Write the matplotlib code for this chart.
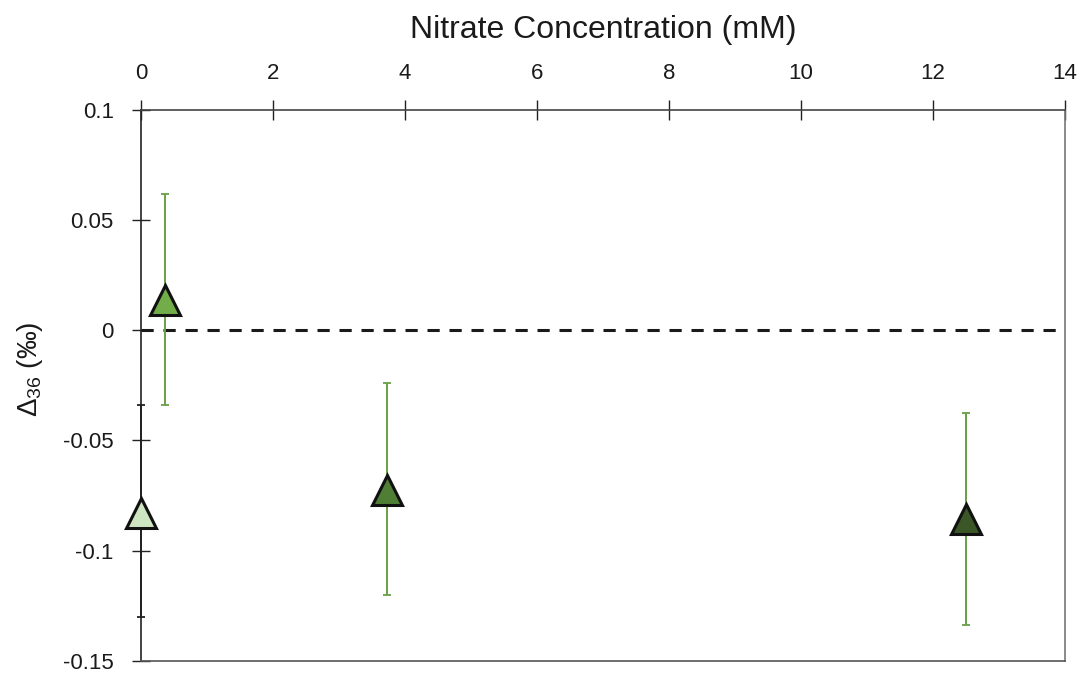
import numpy as np
import matplotlib.pyplot as plt

plt.rcParams["font.family"] = ["Liberation Sans", "DejaVu Sans"]
plt.rcParams["mathtext.fontset"] = "custom"
plt.rcParams["mathtext.rm"] = "Liberation Sans"
plt.rcParams["mathtext.it"] = "Liberation Sans"

# Nitrate treatments: concentration (mM), Δ36 (‰) and error bar limits
nitrate = [0.0, 0.36, 3.73, 12.5]
d36 = [-0.083, 0.0137, -0.0723, -0.0857]
err_hi = [-0.034, 0.062, -0.0238, -0.0377]
err_lo = [-0.130, -0.034, -0.1203, -0.1337]
fills = ["#cde5c0", "#72ad4a", "#4f7e34", "#3b5627"]
bar_colors = ["#222222", "#6a9e48", "#6a9e48", "#6a9e48"]

xticks = [0, 2, 4, 6, 8, 10, 12, 14]
yticks = [-0.15, -0.1, -0.05, 0, 0.05, 0.1]
ytick_labels = ["-0.15", "-0.1", "-0.05", "0", "0.05", "0.1"]

fig = plt.figure(figsize=(10.84, 6.77), dpi=100)
ax = fig.add_axes([0.130, 0.024, 0.8525, 0.8135])

# reference line at zero
ax.plot([0, 14], [0, 0], color="#1a1a1a", lw=2.2, ls=(0, (4, 3.2)), zorder=2)

for x, y, hi, lo, fc, bc in zip(nitrate, d36, err_hi, err_lo, fills, bar_colors):
    yerr = [[y - lo], [hi - y]]
    ax.errorbar([x], [y], yerr=yerr, fmt="none", ecolor=bc, elinewidth=1.4,
                capsize=3, capthick=1.3, zorder=3, clip_on=False)
    ax.plot([x], [y], marker="^", ms=21, mfc=fc, mec="#111111", mew=2.2,
            ls="none", zorder=4, clip_on=False)

ax.set_xlim(0, 14)
ax.set_ylim(-0.15, 0.1)
ax.set_xticks(xticks)
ax.set_xticklabels([str(t) for t in xticks])
ax.set_yticks(yticks)
ax.set_yticklabels(ytick_labels)

ax.xaxis.tick_top()
ax.xaxis.set_label_position("top")
ax.tick_params(axis="x", direction="inout", length=14, width=1, labelsize=16,
               pad=12, colors="#222222", labelcolor="#1a1a1a")
ax.tick_params(axis="y", direction="inout", length=13, width=1, labelsize=16,
               pad=13, colors="#222222", labelcolor="#1a1a1a")

ax.set_xlabel("Nitrate Concentration (mM)", fontsize=23, labelpad=18,
              color="#1a1a1a")
ax.set_ylabel("Δ$_{36}$ (‰)", fontsize=20, color="#1a1a1a")
ax.yaxis.set_label_coords(-0.104, 0.53)

ax.spines["left"].set_color("#222222")
ax.spines["top"].set_color("#444444")
ax.spines["right"].set_color("#777777")
ax.spines["bottom"].set_color("#555555")
for s in ax.spines.values():
    s.set_linewidth(1.2)

fig.savefig("out.png", dpi=100)
